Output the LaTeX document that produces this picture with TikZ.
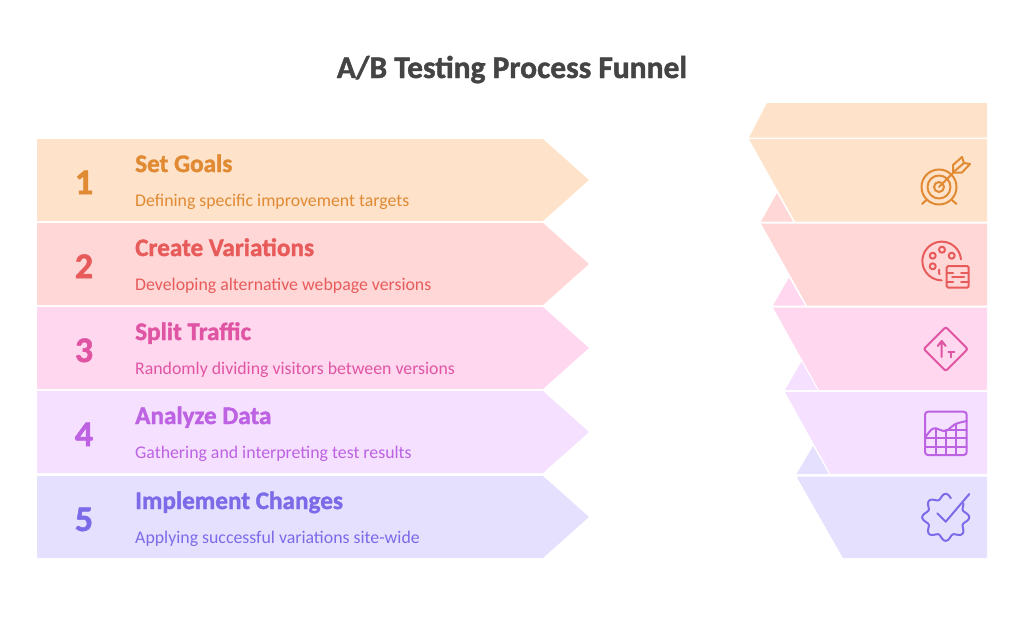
\documentclass[tikz,border=0pt]{standalone}
\usepackage{fontspec}
\setmainfont{Carlito}[BoldFeatures={FakeBold=1.4}]
\definecolor{fa}{HTML}{FEE2CA}\definecolor{ta}{HTML}{E08A33}
\definecolor{fb}{HTML}{FFD7D7}\definecolor{tb}{HTML}{E85B5B}
\definecolor{fc}{HTML}{FFD7EF}\definecolor{tc}{HTML}{E055A3}
\definecolor{fd}{HTML}{F5E0FF}\definecolor{td}{HTML}{BC62E3}
\definecolor{fe}{HTML}{E6E0FF}\definecolor{te}{HTML}{7B6BE8}
\definecolor{titlec}{HTML}{444444}
\tikzset{
  titletext/.style={font=\bfseries\fontsize{31.5}{34}\selectfont,text=titlec,inner sep=0pt,anchor=base},
  headtext/.style={font=\bfseries\fontsize{25.2}{28}\selectfont,inner sep=0pt,anchor=base west},
  desctext/.style={font=\fontsize{17.8}{20}\selectfont,inner sep=0pt,anchor=base west},
  numtext/.style={font=\bfseries\fontsize{36}{38}\selectfont,inner sep=0pt,anchor=base},
  icon/.style={line width=2pt,line cap=round,line join=round}
}
\begin{document}
\begin{tikzpicture}[x=1pt,y=-1pt]
\useasboundingbox (0,0) rectangle (1024,626);
\node[titletext] (title) at (512,78) {A/B Testing Process Funnel};
% left bands
\foreach \c/\t/\bt/\n/\h/\d in {
 a/139/221/1/Set Goals/Defining specific improvement targets,
 b/223/305/2/Create Variations/Developing alternative webpage versions,
 c/307/389/3/Split Traffic/Randomly dividing visitors between versions,
 d/391/473/4/Analyze Data/Gathering and interpreting test results,
 e/476/558/5/Implement Changes/Applying successful variations site-wide}{
  \fill[f\c] (37,\t) -- (543,\t) -- (589,{(\t+\bt)/2}) -- (543,\bt) -- (37,\bt) -- cycle;
  \node[numtext,text=t\c] (num\n) at (84,\t+55) {\n};
  \node[headtext,text=t\c] (head\n) at (135,\t+33) {\h};
  \node[desctext,text=t\c] (desc\n) at (135,\t+67) {\d};
}
% right funnel
\fill[fa] (767,103) -- (987,103) -- (987,137.5) -- (749,137.5) -- cycle;
\fill[fa] (749,139) -- (987,139) -- (987,221.5) -- (795,221.5) -- cycle;
\fill[fb] (777,193) -- (793,221.5) -- (761,221.5) -- cycle;
\fill[fb] (761,223.5) -- (987,223.5) -- (987,305.5) -- (807,305.5) -- cycle;
\fill[fc] (789,277.5) -- (805,305.5) -- (773,305.5) -- cycle;
\fill[fc] (773,307.5) -- (987,307.5) -- (987,390) -- (819,390) -- cycle;
\fill[fd] (801.5,361.5) -- (817.5,390) -- (785,390) -- cycle;
\fill[fd] (785,392) -- (987,392) -- (987,474) -- (830.5,474) -- cycle;
\fill[fe] (813,446) -- (829,474) -- (796.5,474) -- cycle;
\fill[fe] (796.5,476.5) -- (987,476.5) -- (987,558) -- (843,558) -- cycle;
% target
\begin{scope}[icon,draw=ta]
\draw (939,187) circle[radius=17.5];
\draw (939,187) circle[radius=11.5];
\draw (939,187) circle[radius=5];
\draw (939,187) -- (953,173);
\draw (922,204) -- (926.5,200) (956.5,204) -- (952,200);
\draw (953,172.5) -- (953,165) -- (962,157) -- (964,163) -- (970,164) -- (962,172.5) -- cycle;
\draw (953,172.5) -- (964,163);
\end{scope}
% palette
\begin{scope}[icon,draw=tb]
\draw plot[smooth,samples=40,domain=5:270] ({941.7+19.3*cos(\x)},{261-19.3*sin(\x)});
\draw (932.7,255.7) circle[radius=3] (942,249.7) circle[radius=3] (951.7,255.7) circle[radius=3] (932.7,266.3) circle[radius=3];
\draw plot[smooth,samples=8,domain=160:205] ({945+6*cos(\x)},{271.7-6*sin(\x)});
\draw[rounded corners=1.5pt] (946.7,266) rectangle (968.7,287.7);
\draw (946.7,272.5) -- (953,272.5) (961,272.5) -- (968.7,272.5);
\draw (952,277) -- (964,277);
\draw (946.7,281.5) -- (953,281.5) (961,281.5) -- (968.7,281.5);
\end{scope}
% diamond
\begin{scope}[icon,draw=tc]
\draw[rounded corners=2pt] (945.7,327) -- (967.7,349) -- (945.7,371) -- (923.7,349) -- cycle;
\draw (941.7,357) -- (941.7,341) (937.7,346) -- (941.7,341) -- (945.7,346);
\draw (948.3,351.7) -- (954.3,351.7) (951.3,351.7) -- (951.3,357.3);
\end{scope}
% chart
\begin{scope}[icon,draw=td]
\draw[rounded corners=3pt] (925,411.7) rectangle (966.7,455);
\draw plot[smooth] coordinates {(925,437.5) (931,430) (935.5,428.3) (945.5,431) (955.5,424) (966.7,421)};
\draw (935.5,428.3) -- (935.5,455) (945.5,431) -- (945.5,455) (955.5,424) -- (955.5,455);
\draw (925,438) -- (966.7,438) (925,446.5) -- (966.7,446.5) (945.5,430) -- (966.7,430);
\end{scope}
% badge
\begin{scope}[icon,draw=te]
\draw plot[smooth,samples=130,domain=75:398] ({945.7+(21+2.5*cos(8*\x))*cos(\x)},{517.3-(21+2.5*cos(8*\x))*sin(\x)});
\draw (937.3,513.3) -- (945.7,521.7) -- (969.3,494);
\end{scope}
\end{tikzpicture}
\end{document}
